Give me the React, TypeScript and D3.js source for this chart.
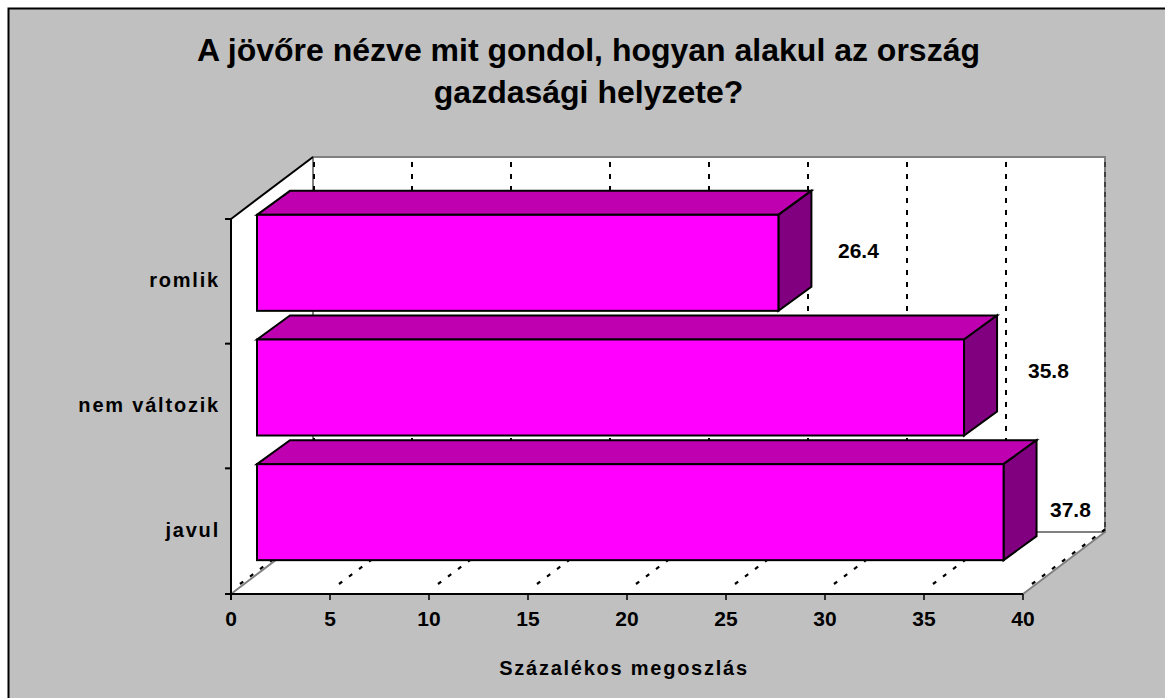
import React from "react";
import * as d3 from "d3";

const categories = ["romlik", "nem változik", "javul"];
const values = [26.4, 35.8, 37.8];
const ticks = [0, 5, 10, 15, 20, 25, 30, 35, 40];
const titleLines = ["A jövőre nézve mit gondol, hogyan alakul az ország", "gazdasági helyzete?"];
const xTitle = "Százalékos megoszlás";
const labelLeft = [838, 1028, 1050];
const labelBase = [258, 378, 517];

const FONT = "'Liberation Sans', Arial, sans-serif";
const x = d3.scaleLinear().domain([0, 40]).range([231, 1023]);
const xBar = d3.scaleLinear().domain([0, 40]).range([257, 1047]);
const y = d3.scaleBand().domain(categories).range([219, 593]);
const DX = 82, DY = -62;
const barDX = 33, barDY = -24;
const barH = 96;

const poly = (p: [number, number][]) => d3.line()(p) + "Z";

export default function App() {
  const y0 = 594, yT = 219;
  return (
    <svg width={1165} height={698} style={{ position: "absolute", left: 0, top: 0, display: "block" }} fontFamily={FONT}>
      <rect x={0} y={0} width={1165} height={698} fill="#fff" />
      <rect x={8.5} y={8.5} width={1160} height={695} fill="#c0c0c0" stroke="#000" strokeWidth={2} />
      {titleLines.map((t, i) => (
        <text key={t} x={588.5} y={61 + i * 42} textAnchor="middle" fontSize={32} fontWeight="bold" fill="#000">{t}</text>
      ))}
      {/* walls */}
      <path d={poly([[x(0) + DX, yT + DY], [x(40) + DX, yT + DY], [x(40) + DX, y0 + DY], [x(0) + DX, y0 + DY]])} fill="#fff" />
      <path d={poly([[x(0), yT], [x(0) + DX, yT + DY], [x(0) + DX, y0 + DY], [x(0), y0]])} fill="#fff" />
      <path d={poly([[x(0), y0], [x(40), y0], [x(40) + DX, y0 + DY], [x(0) + DX, y0 + DY]])} fill="#fff" />
      <path d={`M${x(0)},${y0}L${x(0) + DX},${y0 + DY}L${x(0) + DX},${yT + DY}L${x(40) + DX},${yT + DY}L${x(40) + DX},${y0 + DY}L${x(0) + DX},${y0 + DY}M${x(40) + DX},${y0 + DY}L${x(40)},${y0}`} fill="none" stroke="#808080" strokeWidth={2} />
      {/* grid */}
      {ticks.map((t) => (
        <g key={t}>
          <line x1={x(t) + DX + (t === 0 ? 1 : 0)} x2={x(t) + DX + (t === 0 ? 1 : 0)} y1={yT + DY + 5} y2={y0 + DY} stroke="#000" strokeWidth={t === 40 ? 1 : 2} strokeDasharray={t === 40 ? "5 5" : "5 7"} />
          <line x1={x(t) + 9} x2={x(t) + DX} y1={y0 - 10} y2={y0 + DY - 2.5} stroke="#000" strokeWidth={2.2} strokeDasharray="4 8.5" />
        </g>
      ))}
      <line x1={x(0)} x2={x(0) + DX} y1={yT} y2={yT + DY} stroke="#000" strokeWidth={2} />
      {/* bars, back to front */}
      {categories.map((c, i) => {
        const x0 = xBar(0);
        const x1 = xBar(values[i]);
        const top = y(c)! + (y.bandwidth() - barH) / 2 - 18.5;
        const bot = top + barH;
        return (
          <g key={c} stroke="#000" strokeWidth={2} strokeLinejoin="miter">
            <path d={poly([[x0, top], [x0 + barDX, top + barDY], [x1 + barDX, top + barDY], [x1, top]])} fill="#bf00b0" />
            <path d={poly([[x1, top], [x1 + barDX, top + barDY], [x1 + barDX, bot + barDY], [x1, bot]])} fill="#800080" />
            <rect x={x0} y={top} width={x1 - x0} height={barH} fill="#ff00ff" />
            <text x={labelLeft[i]} y={labelBase[i]} stroke="none" fontSize={21} fontWeight="bold" fill="#000">{values[i].toFixed(1)}</text>
          </g>
        );
      })}
      {/* axes */}
      <line x1={x(0)} x2={x(0)} y1={yT} y2={y0 + 6} stroke="#000" strokeWidth={2} />
      <line x1={x(0) - 6} x2={x(40)} y1={y0} y2={y0} stroke="#000" strokeWidth={2} />
      {y.domain().map((c) => (
        <g key={c}>
          <line x1={x(0) - 6} x2={x(0)} y1={y(c)!} y2={y(c)!} stroke="#000" strokeWidth={2} />
          <text x={220} y={y(c)! + y.bandwidth() / 2 + 6} textAnchor="end" fontSize={20} fontWeight="bold" letterSpacing={1.8} fill="#000">{c}</text>
        </g>
      ))}
      {ticks.map((t) => (
        <g key={t}>
          <line x1={x(t)} x2={x(t)} y1={y0} y2={y0 + 6} stroke="#000" strokeWidth={1.5} />
          <text x={x(t)} y={626} textAnchor="middle" fontSize={21} fontWeight="bold" fill="#000">{t}</text>
        </g>
      ))}
      <text x={624} y={675} textAnchor="middle" fontSize={20} fontWeight="bold" letterSpacing={1.75} fill="#000">{xTitle}</text>
    </svg>
  );
}
